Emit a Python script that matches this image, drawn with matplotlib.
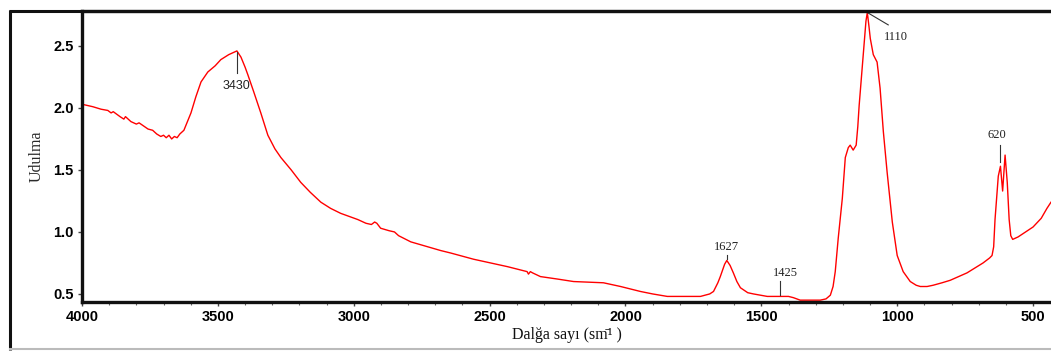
import matplotlib.pyplot as plt
from matplotlib.lines import Line2D
from matplotlib.ticker import MultipleLocator

# IR spectrum: wavenumber (cm-1) vs absorbance
wavenumber = [4000, 3960, 3930, 3905, 3893, 3885, 3860, 3846, 3840, 3820, 3800, 3790,
              3770, 3757, 3740, 3725, 3710, 3700, 3690, 3680, 3670, 3660, 3650, 3640,
              3625, 3610, 3599, 3581, 3562, 3537, 3510, 3489, 3460, 3430, 3415, 3400,
              3390, 3368, 3342, 3316, 3290, 3268, 3230, 3195, 3160, 3121, 3085, 3048,
              3010, 2985, 2955, 2935, 2923, 2915, 2901, 2870, 2850, 2835, 2790, 2743,
              2680, 2643, 2559, 2434, 2380, 2362, 2357, 2350, 2342, 2313, 2250, 2191,
              2081, 2018, 1945, 1900, 1846, 1772, 1724, 1690, 1676, 1660, 1651, 1635,
              1627, 1615, 1603, 1590, 1577, 1550, 1529, 1478, 1430, 1400, 1382, 1357,
              1283, 1262, 1246, 1236, 1228, 1217, 1202, 1191, 1180, 1173, 1162, 1151,
              1145, 1140, 1125, 1115, 1110, 1104, 1099, 1088, 1074, 1063, 1051, 1037,
              1018, 1000, 978, 952, 930, 915, 890, 868, 835, 805, 743, 684, 660, 651,
              645, 640, 628, 620, 612, 603, 595, 588, 582, 575, 555, 500, 470, 449, 434]
absorbance = [2.03, 2.01, 1.99, 1.98, 1.96, 1.97, 1.93, 1.91, 1.93, 1.89, 1.87, 1.88,
              1.85, 1.83, 1.82, 1.79, 1.77, 1.78, 1.76, 1.78, 1.75, 1.77, 1.76, 1.79,
              1.82, 1.90, 1.96, 2.09, 2.21, 2.29, 2.34, 2.39, 2.43, 2.46, 2.41, 2.33,
              2.27, 2.13, 1.96, 1.78, 1.67, 1.60, 1.50, 1.40, 1.32, 1.24, 1.19, 1.15,
              1.12, 1.10, 1.07, 1.06, 1.08, 1.07, 1.03, 1.01, 1.00, 0.97, 0.92, 0.89,
              0.85, 0.83, 0.78, 0.72, 0.69, 0.68, 0.66, 0.68, 0.67, 0.64, 0.62, 0.60,
              0.59, 0.56, 0.52, 0.50, 0.48, 0.48, 0.48, 0.50, 0.52, 0.59, 0.64, 0.74,
              0.77, 0.73, 0.67, 0.60, 0.55, 0.51, 0.50, 0.48, 0.48, 0.48, 0.47, 0.45,
              0.45, 0.46, 0.49, 0.56, 0.68, 0.95, 1.27, 1.60, 1.68, 1.70, 1.66, 1.70,
              1.85, 2.02, 2.43, 2.70, 2.77, 2.66, 2.56, 2.43, 2.37, 2.16, 1.81, 1.48,
              1.08, 0.81, 0.68, 0.60, 0.57, 0.56, 0.56, 0.57, 0.59, 0.61, 0.67, 0.75,
              0.79, 0.81, 0.88, 1.10, 1.45, 1.53, 1.33, 1.62, 1.40, 1.10, 0.97, 0.94,
              0.96, 1.04, 1.11, 1.19, 1.24]

# peak labels: text, leader line (x0, y0, x1, y1), text position
peak_labels = ["3430", "1110", "1627", "1425", "620"]
peak_lines = [(3430, 2.45, 3430, 2.28), (1110, 2.77, 1033, 2.67), (1627, 0.815, 1627, 0.78),
              (1430, 0.605, 1430, 0.49), (620, 1.70, 620, 1.565)]
peak_text_pos = [(3430, 2.18), (1004, 2.57), (1627, 0.88), (1412, 0.67), (632, 1.78)]

fig = plt.figure(figsize=(10.51, 3.51), dpi=100)
ax = fig.add_axes([82 / 1051, 49 / 351, 969 / 1051, 291 / 351])

ax.plot(wavenumber, absorbance, color='#ff0000', linewidth=1.0)

for i, lab in enumerate(peak_labels):
    x0, y0, x1, y1 = peak_lines[i]
    ax.plot([x0, x1], [y0, y1], color='#333333', linewidth=0.8)
    tx, ty = peak_text_pos[i]
    fam = 'Liberation Sans' if lab == "3430" else 'Liberation Serif'
    ax.text(tx, ty, lab, ha='center', va='center', fontsize=9, family=fam, color='#222222')

ax.set_xlim(4000, 434)
ax.set_ylim(0.435, 2.782)
ax.set_xticks([4000, 3500, 3000, 2500, 2000, 1500, 1000, 500])
ax.xaxis.set_minor_locator(MultipleLocator(100))
ax.set_yticks([0.5, 1.0, 1.5, 2.0, 2.5])
ax.set_yticklabels(["0.5", "1.0", "1.5", "2.0", "2.5"])

for lbl in ax.get_xticklabels() + ax.get_yticklabels():
    lbl.set_family('Liberation Sans')
    lbl.set_fontweight('bold')
    lbl.set_fontsize(10.5)

ax.tick_params(axis='both', which='major', length=3, width=1, color='#444444', pad=3)
ax.tick_params(axis='x', which='minor', length=2, width=0.8, color='#666666')

for side in ['left', 'bottom', 'top']:
    ax.spines[side].set_linewidth(2.4)
    ax.spines[side].set_color('#111111')
ax.spines['right'].set_visible(False)

ax.set_ylabel("Udulma", family='Liberation Serif', fontsize=11.5, color='#2a2a2a', labelpad=6)
ax.set_xlabel("Dalğa sayı (sm\u0304\u00b9 )", family='Liberation Serif', fontsize=11.5,
              color='#111111', labelpad=2)

# outer frame lines
fig.add_artist(Line2D([9.5 / 1051, 9.5 / 1051], [1.5 / 351, 341.5 / 351], color='#111111',
                      linewidth=2.2, solid_capstyle='butt'))
fig.add_artist(Line2D([8.5 / 1051, 1.0], [340.5 / 351, 340.5 / 351], color='#111111',
                      linewidth=2.2, solid_capstyle='butt'))
fig.add_artist(Line2D([9 / 1051, 1.0], [2 / 351, 2 / 351], color='#bbbbbb', linewidth=1.5,
                      solid_capstyle='butt'))

fig.savefig("out.png", dpi=100)
